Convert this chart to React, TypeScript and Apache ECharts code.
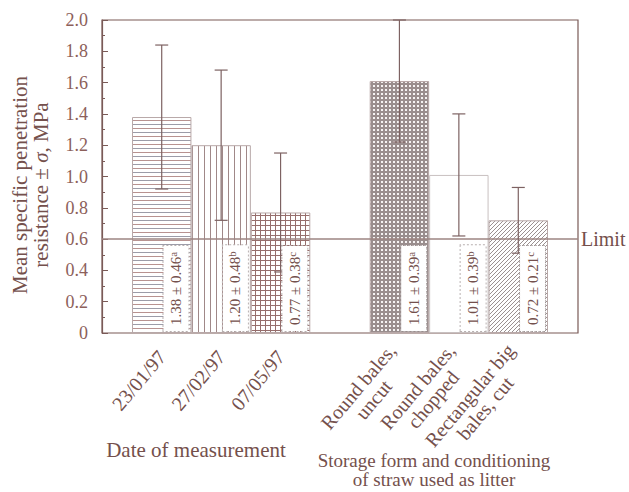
import React, { useEffect, useRef } from 'react';
import * as echarts from 'echarts';

const categories = ['23/01/97', '27/02/97', '07/05/97', '', 'Round bales,\nuncut', 'Round bales,\nchopped', 'Rectangular big\nbales, cut'];
const means: (number | null)[] = [1.38, 1.2, 0.77, null, 1.61, 1.01, 0.72];
const sds: (number | null)[] = [0.46, 0.48, 0.38, null, 0.39, 0.39, 0.21];
const letters = ['a', 'b', 'c', '', 'a', 'b', 'c'];
const patternKinds = ['h', 'v', 'grid', 'none', 'cross', 'none', 'diag'];
const limitValue = 0.6;
const limitLabel = 'Limit';
const yMin = 0;
const yMax = 2;
const yStep = 0.2;
const xTitle1 = 'Date of measurement';
const xTitle2 = 'Storage form and conditioning\nof straw used as litter';
const yTitle = 'Mean specific penetration\nresistance ± {i|σ}, MPa';

const FONT = "'Liberation Serif', 'Times New Roman', serif";
const TEXT = '#74504c';
const TICKTEXT = '#8c605a';
const FRAME = '#7a5a57';

function makePattern(kind: string): any {
  if (kind === 'none') return '#ffffff';
  const c = document.createElement('canvas');
  const ctx = c.getContext('2d')!;
  if (kind === 'h') {
    c.width = 4; c.height = 8;
    ctx.fillStyle = '#fff'; ctx.fillRect(0, 0, 4, 8);
    ctx.fillStyle = '#b89290'; ctx.fillRect(0, 0, 4, 1);
    ctx.fillStyle = '#9c9ca8'; ctx.fillRect(0, 4, 4, 1);
  } else if (kind === 'v') {
    c.width = 6; c.height = 4;
    ctx.fillStyle = '#fff'; ctx.fillRect(0, 0, 6, 4);
    ctx.fillStyle = '#a08888'; ctx.fillRect(0, 0, 1, 4);
  } else if (kind === 'grid') {
    c.width = 5; c.height = 5;
    ctx.fillStyle = '#fff'; ctx.fillRect(0, 0, 5, 5);
    ctx.fillStyle = '#966e6c'; ctx.fillRect(0, 0, 5, 1); ctx.fillRect(0, 0, 1, 5);
  } else if (kind === 'cross') {
    c.width = 4; c.height = 4;
    ctx.fillStyle = '#9a8e8e'; ctx.fillRect(0, 0, 4, 4);
    ctx.fillStyle = '#f6f3f3'; ctx.fillRect(1, 1, 2, 2);
  } else if (kind === 'diag') {
    c.width = 4; c.height = 4;
    ctx.fillStyle = '#fff'; ctx.fillRect(0, 0, 4, 4);
    ctx.strokeStyle = '#9a9090'; ctx.lineWidth = 1;
    ctx.beginPath();
    ctx.moveTo(0, 4); ctx.lineTo(4, 0);
    ctx.moveTo(-1, 1); ctx.lineTo(1, -1);
    ctx.moveTo(3, 5); ctx.lineTo(5, 3);
    ctx.stroke();
  }
  return { image: c, repeat: 'repeat' };
}

export default function App() {
  const ref = useRef<HTMLDivElement>(null);
  useEffect(() => {
    if (!ref.current) return;
    const chart = echarts.init(ref.current, null, { renderer: 'svg' });

    const barData = means.map((m, i) =>
      m == null
        ? '-'
        : {
            value: m,
            itemStyle: {
              color: makePattern(patternKinds[i]),
              borderColor: patternKinds[i] === 'none' ? '#c8c0c0' : '#b8a8a8',
              borderWidth: 1,
            },
          }
    );
    const errData = means.flatMap((m, i) =>
      m == null ? [] : [[i, +(m - (sds[i] as number)).toFixed(2), +(m + (sds[i] as number)).toFixed(2)]]
    );
    const labelData = means.flatMap((m, i) => (m == null ? [] : [[i, m]]));

    const option: any = {
      animation: false,
      backgroundColor: '#ffffff',
      grid: [
        { left: 102, top: 20, width: 476, height: 313, show: true, borderColor: FRAME, borderWidth: 1.2, backgroundColor: 'transparent' },
        { left: 132, top: 20, width: 416, height: 313, show: false },
      ],
      xAxis: [
        { gridIndex: 0, type: 'value', min: 0, max: 1, show: false },
        {
          gridIndex: 1,
          type: 'category',
          data: categories,
          axisLine: { show: false },
          axisTick: { show: false },
          axisLabel: {
            interval: 0,
            rotate: 50,
            margin: 20,
            formatter: (v: string) => v.split('\n').map((s) => `{c|${s}}`).join('\n'),
            rich: { c: { align: 'center', fontSize: 20, lineHeight: 20, fontFamily: FONT, color: TEXT } },
            fontSize: 20,
            fontFamily: FONT,
            color: TEXT,
          },
        },
      ],
      yAxis: [
        {
          gridIndex: 0,
          type: 'value',
          min: yMin,
          max: yMax,
          interval: yStep,
          axisLine: { show: true, lineStyle: { color: FRAME, width: 1.2 } },
          axisTick: { show: true, inside: true, length: 6, lineStyle: { color: FRAME } },
          minorTick: { show: true, splitNumber: 2, length: 3, lineStyle: { color: FRAME } },
          splitLine: { show: false },
          axisLabel: {
            margin: 14,
            fontSize: 18,
            fontFamily: FONT,
            color: TICKTEXT,
            formatter: (v: number) => (v === 0 ? '0' : v.toFixed(1)),
          },
        },
        { gridIndex: 1, type: 'value', min: yMin, max: yMax, show: false },
      ],
      series: [
        {
          type: 'bar',
          xAxisIndex: 1,
          yAxisIndex: 1,
          data: barData,
          barWidth: '100%',
          barGap: '0%',
          z: 2,
        },
        {
          type: 'line',
          xAxisIndex: 0,
          yAxisIndex: 0,
          data: [[0, limitValue], [1, limitValue]],
          symbol: 'none',
          z: 3,
          lineStyle: { color: '#9c8482', width: 1.5 },
          endLabel: { show: true, formatter: limitLabel, distance: 3, fontSize: 20, fontFamily: FONT, color: TEXT },
        },
        {
          type: 'custom',
          xAxisIndex: 1,
          yAxisIndex: 1,
          z: 4,
          data: errData,
          renderItem: (params: any, api: any) => {
            const i = api.value(0);
            const pLo = api.coord([i, api.value(1)]);
            const pHi = api.coord([i, api.value(2)]);
            const half = 6.5;
            const style = { stroke: '#7d6262', lineWidth: 1.2 };
            return {
              type: 'group',
              children: [
                { type: 'line', shape: { x1: pLo[0], y1: pLo[1], x2: pHi[0], y2: pHi[1] }, style },
                { type: 'line', shape: { x1: pHi[0] - half, y1: pHi[1], x2: pHi[0] + half, y2: pHi[1] }, style },
                { type: 'line', shape: { x1: pLo[0] - half, y1: pLo[1], x2: pLo[0] + half, y2: pLo[1] }, style },
              ],
            };
          },
        },
        {
          type: 'custom',
          xAxisIndex: 1,
          yAxisIndex: 1,
          z: 5,
          data: labelData,
          renderItem: (params: any, api: any) => {
            const i = api.value(0);
            const p = api.coord([i, 0]);
            const bw = api.size([1, 0])[0];
            const txt = `{m|${(means[i] as number).toFixed(2)} ± ${(sds[i] as number).toFixed(2)}}{s|${letters[i]}}`;
            return {
              type: 'text',
              x: p[0] + bw * 0.24,
              y: p[1] - 2,
              rotation: Math.PI / 2,
              style: {
                text: txt,
                align: 'left',
                verticalAlign: 'middle',
                backgroundColor: '#ffffff',
                borderColor: '#b8b0b0',
                borderWidth: 1,
                borderDash: [2, 2],
                padding: [4, 6],
                rich: {
                  m: { fontSize: 15, lineHeight: 17, fontFamily: FONT, fill: TEXT },
                  s: { fontSize: 11, lineHeight: 9, fontFamily: FONT, fill: TEXT, verticalAlign: 'top' },
                },
              },
            };
          },
        },
      ],
      graphic: [
        {
          type: 'text',
          x: 196,
          y: 450,
          style: { text: xTitle1, align: 'center', verticalAlign: 'middle', fontSize: 21, fontFamily: FONT, fill: TEXT },
        },
        {
          type: 'text',
          x: 434,
          y: 470,
          style: { text: xTitle2, align: 'center', verticalAlign: 'middle', fontSize: 19, lineHeight: 19, fontFamily: FONT, fill: TEXT },
        },
        {
          type: 'text',
          x: 30,
          y: 185,
          rotation: Math.PI / 2,
          style: {
            text: yTitle,
            align: 'center',
            verticalAlign: 'middle',
            fontSize: 21,
            lineHeight: 21,
            fontFamily: FONT,
            fill: TEXT,
            rich: { i: { fontStyle: 'italic', fontSize: 21, lineHeight: 21, fontFamily: FONT, fill: TEXT } },
          },
        },
      ],
    };
    chart.setOption(option);
    return () => chart.dispose();
  }, []);
  return <div ref={ref} style={{ position: 'fixed', left: 0, top: 0, width: 629, height: 492, background: '#fff' }} />;
}
